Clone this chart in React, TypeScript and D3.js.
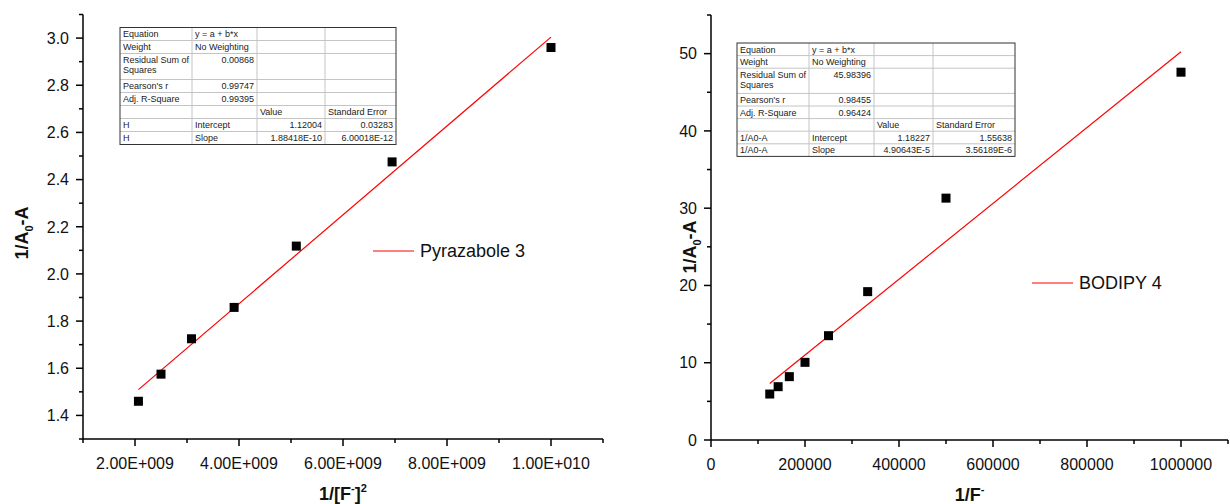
import React from "react";
import * as d3 from "d3";

const FONT = "'Liberation Sans', Arial, Helvetica, sans-serif";

// Pyrazabole 3 : 1/(A0-A) vs 1/[F-]^2
const pyrX = [2.066e9, 2.5e9, 3.086e9, 3.906e9, 5.102e9, 6.944e9, 1.0e10];
const pyrY = [1.46, 1.575, 1.725, 1.858, 2.118, 2.475, 2.96];
const pyrFit = { intercept: 1.12004, slope: 1.88418e-10 };
const pyrMajorX = [2e9, 4e9, 6e9, 8e9, 1e10];
const pyrMinorX = [1e9, 3e9, 5e9, 7e9, 9e9, 1.1e10];
const pyrMajorY = [1.4, 1.6, 1.8, 2.0, 2.2, 2.4, 2.6, 2.8, 3.0];
const pyrMinorY = [1.3, 1.5, 1.7, 1.9, 2.1, 2.3, 2.5, 2.7, 2.9, 3.1];
const pyrTable = [
  ["Equation", "y = a + b*x", "", ""],
  ["Weight", "No Weighting", "", ""],
  ["Residual Sum of\nSquares", "0.00868", "", ""],
  ["Pearson's r", "0.99747", "", ""],
  ["Adj. R-Square", "0.99395", "", ""],
  ["", "", "Value", "Standard Error"],
  ["H", "Intercept", "1.12004", "0.03283"],
  ["H", "Slope", "1.88418E-10", "6.00018E-12"],
];

// BODIPY 4 : 1/(A0-A) vs 1/F-
const bodX = [125000, 142857, 166667, 200000, 250000, 333333, 500000, 1000000];
const bodY = [5.95, 6.9, 8.2, 10.05, 13.5, 19.2, 31.3, 47.6];
const bodFit = { intercept: 1.18227, slope: 4.90643e-5 };
const bodMajorX = [0, 200000, 400000, 600000, 800000, 1000000];
const bodMinorX = [100000, 300000, 500000, 700000, 900000, 1100000];
const bodMajorY = [0, 10, 20, 30, 40, 50];
const bodMinorY = [5, 15, 25, 35, 45, 55];
const bodTable = [
  ["Equation", "y = a + b*x", "", ""],
  ["Weight", "No Weighting", "", ""],
  ["Residual Sum of\nSquares", "45.98396", "", ""],
  ["Pearson's r", "0.98455", "", ""],
  ["Adj. R-Square", "0.96424", "", ""],
  ["", "", "Value", "Standard Error"],
  ["1/A0-A", "Intercept", "1.18227", "1.55638"],
  ["1/A0-A", "Slope", "4.90643E-5", "3.56189E-6"],
];

const expFmt = (v: number) => {
  const [m, e] = v.toExponential(2).split("e");
  const n = Math.abs(+e);
  return `${m}E${+e < 0 ? "-" : "+"}${String(n).padStart(3, "0")}`;
};

function Table({ x, y, cols, rowH, rows }: any) {
  const heights = rows.map((r: string[]) => (r[0].includes("\n") ? 2 : 1) * rowH);
  const tops = [y];
  heights.forEach((h: number) => tops.push(tops[tops.length - 1] + h));
  const lefts = [x];
  cols.forEach((w: number) => lefts.push(lefts[lefts.length - 1] + w));
  const W = lefts[lefts.length - 1] - x;
  const H = tops[tops.length - 1] - y;
  const isNum = (s: string) => /^-?[0-9.]+(E[-+]?\d+)?$/.test(s);
  return (
    <g fontFamily={FONT} fontSize={9} fill="#222">
      {tops.slice(1, -1).map((t: number, i: number) => (
        <line key={"h" + i} x1={x} x2={x + W} y1={t} y2={t} stroke="#c4c4c4" strokeWidth={1} />
      ))}
      {lefts.slice(1, -1).map((l: number, i: number) => (
        <line key={"v" + i} x1={l} x2={l} y1={y} y2={y + H} stroke="#c4c4c4" strokeWidth={1} />
      ))}
      <rect x={x} y={y} width={W} height={H} fill="none" stroke="#333" strokeWidth={1} />
      {rows.map((r: string[], ri: number) =>
        r.map((c: string, ci: number) =>
          c.split("\n").map((line: string, li: number) =>
            isNum(line) ? (
              <text key={`${ri}-${ci}-${li}`} x={lefts[ci + 1] - 3} y={tops[ri] + 9.5 + li * 10} textAnchor="end">
                {line}
              </text>
            ) : (
              <text key={`${ri}-${ci}-${li}`} x={lefts[ci] + 3} y={tops[ri] + 9.5 + li * 10}>
                {line}
              </text>
            )
          )
        )
      )}
    </g>
  );
}

function Panel({ c }: any) {
  const x = d3.scaleLinear().domain(c.xDomain).range([c.left, c.right]);
  const y = d3.scaleLinear().domain(c.yDomain).range([c.bottom, c.top]);
  const pts = c.xs.map((v: number, i: number) => [v, c.ys[i]]);
  const [fx0, fx1] = d3.extent(c.xs as number[]) as [number, number];
  const fitLine = d3
    .line<number>()
    .x((d) => x(d))
    .y((d) => y(c.fit.intercept + c.fit.slope * d))([fx0, fx1]);
  const ax = { stroke: "#000", strokeWidth: 1.5 };
  return (
    <g>
      {/* axes */}
      <line x1={c.left} x2={c.left} y1={c.top} y2={c.bottom} {...ax} />
      <line x1={c.left} x2={c.right} y1={c.bottom} y2={c.bottom} {...ax} />
      {c.majorY.map((t: number) => (
        <line key={"my" + t} x1={c.left - 7} x2={c.left} y1={y(t)} y2={y(t)} {...ax} />
      ))}
      {c.minorY.map((t: number) => (
        <line key={"ny" + t} x1={c.left - 4} x2={c.left} y1={y(t)} y2={y(t)} {...ax} />
      ))}
      {c.majorX.map((t: number) => (
        <line key={"mx" + t} x1={x(t)} x2={x(t)} y1={c.bottom} y2={c.bottom + 7} {...ax} />
      ))}
      {c.minorX.map((t: number) => (
        <line key={"nx" + t} x1={x(t)} x2={x(t)} y1={c.bottom} y2={c.bottom + 4} {...ax} />
      ))}
      <g fontFamily={FONT} fontSize={16} fill="#111">
        {c.majorY.map((t: number) => (
          <text key={"ly" + t} x={c.left - 14} y={y(t)} dy="0.36em" textAnchor="end">
            {c.fmtY(t)}
          </text>
        ))}
        {c.majorX.map((t: number) => (
          <text key={"lx" + t} x={x(t)} y={c.bottom + 30} textAnchor="middle">
            {c.fmtX(t)}
          </text>
        ))}
      </g>
      {/* axis titles */}
      <g fontFamily={FONT} fontSize={18} fontWeight="bold" fill="#111">
        <text x={(c.left + c.right) / 2} y={c.bottom + 61} textAnchor="middle">
          {c.xTitle}
        </text>
        <text transform={`translate(${c.yTitleX},${c.yTitleY}) rotate(-90)`} textAnchor="middle">
          1/A<tspan fontSize={11} dy={5}>0</tspan>
          <tspan dy={-5}>-A</tspan>
        </text>
      </g>
      {/* fit line */}
      <path d={fitLine || ""} fill="none" stroke="#ff0000" strokeWidth={1.2} />
      {/* points */}
      {pts.map((p: number[], i: number) => (
        <rect key={"p" + i} x={x(p[0]) - 4.5} y={y(p[1]) - 4.5} width={9} height={9} fill="#000" />
      ))}
      {/* legend */}
      <line x1={c.legX} x2={c.legX + 41} y1={c.legY} y2={c.legY} stroke="#ff0000" strokeWidth={1.2} />
      <text x={c.legX + 47} y={c.legY} dy="0.36em" fontFamily={FONT} fontSize={18} fill="#111">
        {c.legend}
      </text>
      <Table {...c.table} />
    </g>
  );
}

export default function App() {
  const left = {
    xDomain: [1e9, 1.1e10],
    yDomain: [1.3, 3.1],
    left: 83,
    right: 603,
    top: 14.5,
    bottom: 439,
    xs: pyrX,
    ys: pyrY,
    fit: pyrFit,
    majorX: pyrMajorX,
    minorX: pyrMinorX,
    majorY: pyrMajorY,
    minorY: pyrMinorY,
    fmtX: expFmt,
    fmtY: d3.format(".1f"),
    yTitleX: 28,
    yTitleY: 233,
    xTitle: (
      <>
        1/[F<tspan fontSize={11} dy={-8}>-</tspan>
        <tspan dy={8}>]</tspan>
        <tspan fontSize={11} dy={-8}>2</tspan>
      </>
    ),
    legend: "Pyrazabole 3",
    legX: 373,
    legY: 251,
    table: { x: 120, y: 27.5, cols: [72, 65, 68, 71], rowH: 13, rows: pyrTable },
  };
  const right = {
    xDomain: [0, 1.1e6],
    yDomain: [0, 55],
    left: 711,
    right: 1228,
    top: 15,
    bottom: 440,
    xs: bodX,
    ys: bodY,
    fit: bodFit,
    majorX: bodMajorX,
    minorX: bodMinorX,
    majorY: bodMajorY,
    minorY: bodMinorY,
    fmtX: (v: number) => String(v),
    fmtY: (v: number) => String(v),
    yTitleX: 696,
    yTitleY: 247,
    xTitle: (
      <>
        1/F<tspan fontSize={11} dy={-8}>-</tspan>
      </>
    ),
    legend: "BODIPY 4",
    legX: 1032,
    legY: 283,
    table: { x: 737, y: 43, cols: [72, 65, 59, 82], rowH: 12.6, rows: bodTable },
  };
  return (
    <svg
      width={1230}
      height={504}
      style={{ position: "absolute", left: 0, top: 0, background: "#fff" }}
    >
      <rect width={1230} height={504} fill="#fff" />
      <Panel c={left} />
      <Panel c={right} />
    </svg>
  );
}
